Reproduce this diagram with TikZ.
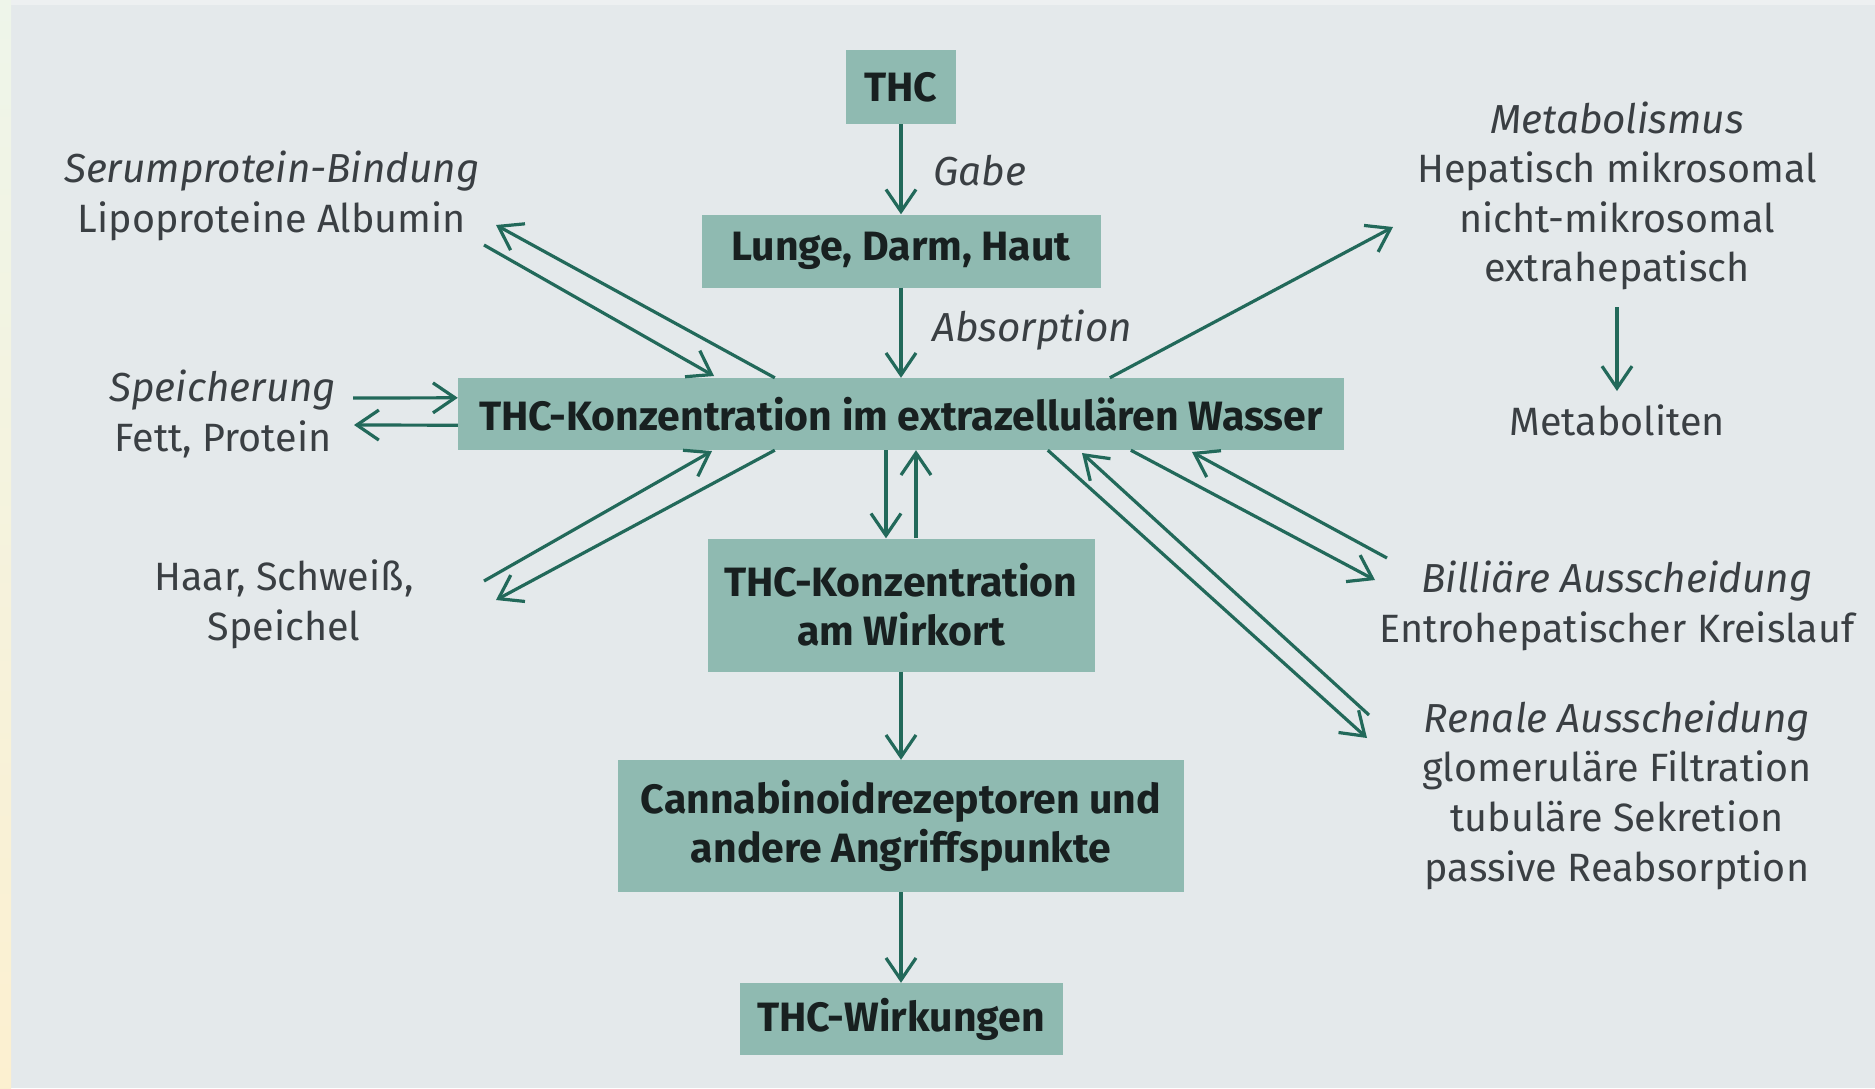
\documentclass[tikz,border=0pt]{standalone}
\usepackage{fontspec}
\setmainfont{Fira Sans}
\usetikzlibrary{arrows.meta,calc}
\definecolor{bg}{HTML}{E4E9EB}
\definecolor{boxc}{HTML}{8FBAB1}
\definecolor{arr}{HTML}{22695A}
\definecolor{txt}{HTML}{3A3F43}
\definecolor{btxt}{HTML}{182020}
\definecolor{stripA}{HTML}{EEF5EA}
\definecolor{stripB}{HTML}{FCF0D0}
\newcommand{\itl}[1]{{\fontsize{40.5}{49.6}\selectfont\itshape #1}}
\begin{document}
\begin{tikzpicture}[x=1pt,y=-1pt,
  box/.style={fill=boxc, text=btxt, font=\fontsize{41}{49}\selectfont\bfseries, align=center, inner sep=0pt},
  lbl/.style={text=txt, font=\fontsize{39.5}{49.6}\selectfont, align=center, inner sep=0pt},
  ar/.style={draw=arr, line width=3.2pt, -{Straight Barb[length=22pt,width=30pt]}}]
\useasboundingbox (0,0) rectangle (1875,1088);
\fill[bg] (0,0) rectangle (1875,1088);
\fill[white, opacity=0.35] (0,0) rectangle (1875,5);
\shade[top color=stripA, bottom color=stripB] (0,0) rectangle (11,1088);

% boxes
\node[box, minimum width=110pt, minimum height=74pt] (thc) at (901,87) {THC};
\node[box, minimum width=399pt, minimum height=73pt] (lunge) at (901,251) {Lunge, Darm, Haut};
\node[box, minimum width=886pt, minimum height=72pt] (main) at (901,414) {THC-Konzentration im extrazellulären Wasser};
\node[box, minimum width=387pt, minimum height=133pt] (wirk) at (901,605) {THC-Konzentration\\am Wirkort};
\node[box, minimum width=566pt, minimum height=132pt] (cann) at (901,826) {Cannabinoidrezeptoren und\\andere Angriffspunkte};
\node[box, minimum width=323pt, minimum height=72pt] (eff) at (901,1019) {THC-Wirkungen};

% labels
\node[lbl, anchor=west] (gabe) at (933,171) {\itl{Gabe}};
\node[lbl, anchor=west] (abs) at (932,330) {\itl{Absorption}};
\node[lbl] (serum) at (272,196) {\itl{Serumprotein-Bindung}\\Lipoproteine Albumin};
\node[lbl] (speich) at (223,414) {\itl{Speicherung}\\Fett, Protein};
\node[lbl] (haar) at (284,604) {Haar, Schweiß,\\Speichel};
\node[lbl] (metab) at (1617,196) {\itl{Metabolismus}\\Hepatisch mikrosomal\\nicht-mikrosomal\\extrahepatisch};
\node[lbl] (metabol) at (1617,420) {Metaboliten};
\node[lbl] (bill) at (1617,606) {\itl{Billiäre Ausscheidung}\\Entrohepatischer Kreislauf};
\node[lbl] (renal) at (1617,795) {\itl{Renale Ausscheidung}\\glomeruläre Filtration\\tubuläre Sekretion\\passive Reabsorption};

% connector end points
\coordinate (a1) at ($(main.north west)+(317,0)$);
\coordinate (a2) at (496,225);
\coordinate (b1) at (484,245);
\coordinate (b2) at (714,376);
\coordinate (s1) at (353,398);
\coordinate (s2) at ($(main.north west)+(0,20)$);
\coordinate (s3) at ($(main.south west)+(0,-25)$);
\coordinate (s4) at (354,425);
\coordinate (c1) at (484,581);
\coordinate (c2) at (712,451);
\coordinate (d1) at ($(main.south west)+(317,0)$);
\coordinate (d2) at (496,600);
\coordinate (m1) at ($(main.north west)+(652,0)$);
\coordinate (m2) at (1393,227);
\coordinate (e1) at ($(main.south west)+(673,0)$);
\coordinate (e2) at (1375,580);
\coordinate (f1) at (1387,558);
\coordinate (f2) at (1192,452);
\coordinate (g1) at ($(main.south west)+(590,0)$);
\coordinate (g2) at (1367,738);
\coordinate (h1) at (1369,715);
\coordinate (h2) at (1082,453);
\coordinate (mt1) at (1617,307);
\coordinate (mt2) at (1617,391);

% vertical chain
\draw[ar] (thc) -- (lunge);
\draw[ar] (lunge) -- (main);
\draw[ar] ([xshift=-15pt]main.south) -- ([xshift=-15pt]wirk.north);
\draw[ar] ([xshift=15pt]wirk.north) -- ([xshift=15pt]main.south);
\draw[ar] (wirk) -- (cann);
\draw[ar] (cann) -- (eff);

% left side
\draw[ar] (a1) -- (a2);
\draw[ar] (b1) -- (b2);
\draw[ar] (s1) -- (s2);
\draw[ar] (s3) -- (s4);
\draw[ar] (c1) -- (c2);
\draw[ar] (d1) -- (d2);

% right side
\draw[ar] (m1) -- (m2);
\draw[ar] (mt1) -- (mt2);
\draw[ar] (e1) -- (e2);
\draw[ar] (f1) -- (f2);
\draw[ar] (g1) -- (g2);
\draw[ar] (h1) -- (h2);
\end{tikzpicture}
\end{document}
